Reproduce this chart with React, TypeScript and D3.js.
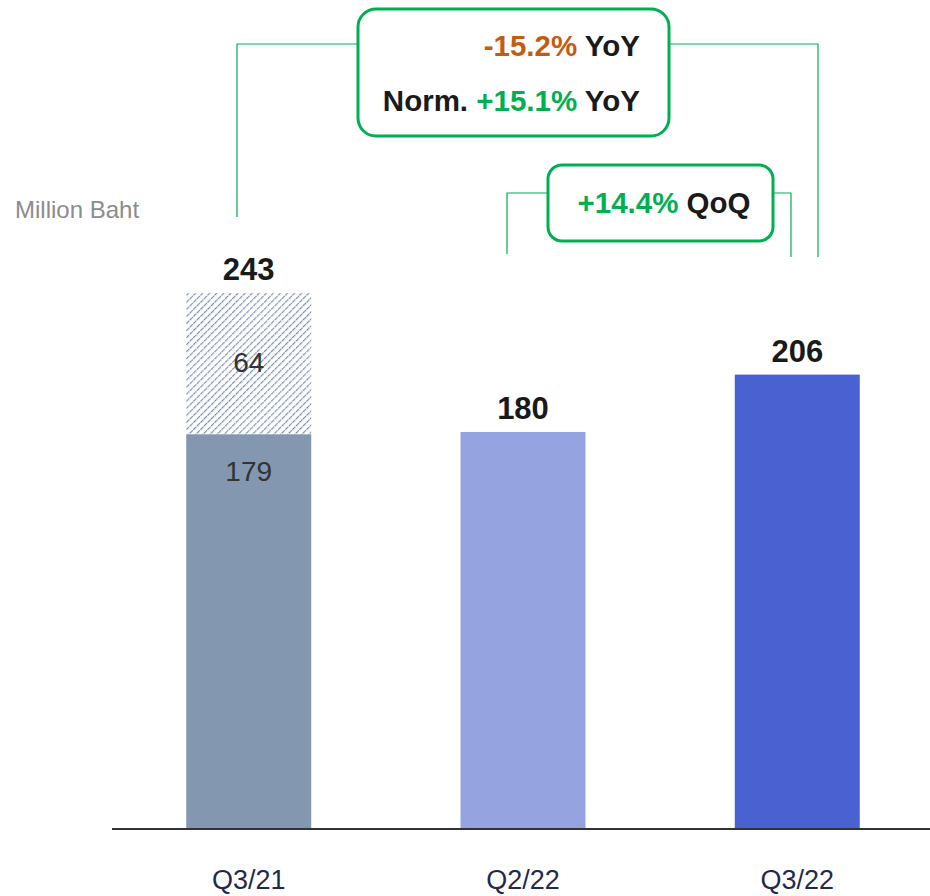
import React from "react";
import * as d3 from "d3";

const categories = ["Q3/21", "Q2/22", "Q3/22"];
const baseValues = [179, 180, 206];
const extraValues = [64, 0, 0];
const totals = [243, 180, 206];
const barColors = ["#8497b0", "#95a3e1", "#4a62d1"];

const W = 930;
const H = 896;

export default function App() {
  const x = d3.scaleBand<string>().domain(categories).range([112, 934]).paddingInner(0.543).paddingOuter(0.27);
  const y = d3.scaleLinear().domain([0, 243]).range([829, 293]);
  const bw = 125;
  const cx = (c: string) => (x(c) as number) + x.bandwidth() / 2;
  const green = "#00b050";
  const font = "Arial, 'Liberation Sans', sans-serif";
  const narrow = "'Liberation Sans Narrow', 'Arial Narrow', Arial, sans-serif";

  return (
    <svg width={W} height={H} style={{ position: "absolute", left: 0, top: 0, background: "#fff" }}>
      <defs>
        <pattern id="hatch" patternUnits="userSpaceOnUse" width="5" height="5" patternTransform="rotate(45)">
          <rect width="5" height="5" fill="#fff" />
          <line x1="0" y1="0" x2="0" y2="5" stroke="#7488a6" strokeWidth="2.4" strokeDasharray="2 0.8" />
        </pattern>
      </defs>
      <rect width={W} height={H} fill="#fff" />
      <text x={15} y={218} fontFamily={font} fontSize={24} fill="#8c8c8c">Million Baht</text>

      {categories.map((c, i) => {
        const xc = cx(c);
        const yBase = y(baseValues[i]);
        const yTop = y(totals[i]);
        return (
          <g key={c}>
            <rect x={xc - bw / 2} y={yBase} width={bw} height={y(0) - yBase} fill={barColors[i]} />
            {extraValues[i] > 0 && (
              <>
                <rect x={xc - bw / 2} y={y(baseValues[i] + extraValues[i])} width={bw}
                  height={yBase - y(baseValues[i] + extraValues[i])} fill="url(#hatch)" />
                <text x={xc} y={(yBase + y(baseValues[i] + extraValues[i])) / 2 + 1} textAnchor="middle"
                  dominantBaseline="middle" fontFamily={font} fontSize={28} fill="#333">{extraValues[i]}</text>
                <text x={xc} y={yBase + 39} textAnchor="middle" dominantBaseline="middle"
                  fontFamily={font} fontSize={28} fill="#333">{baseValues[i]}</text>
              </>
            )}
            <text x={xc} y={yTop - 13} textAnchor="middle" fontFamily={font} fontSize={31}
              fontWeight="bold" fill="#1a1a1a">{totals[i]}</text>
            <text x={xc} y={889} textAnchor="middle" fontFamily={narrow} fontSize={27} fill="#1f2a4d">{c}</text>
          </g>
        );
      })}

      <line x1={112} x2={930} y1={829} y2={829} stroke="#333" strokeWidth={2} />

      {/* YoY bracket */}
      <polyline points={`237,217 237,44 357,44`} fill="none" stroke={green} strokeWidth={1.2} />
      <polyline points={`670,44 818,44 818,257`} fill="none" stroke={green} strokeWidth={1.2} />
      <rect x={358} y={9} width={311} height={127} rx={18} fill="#fff" stroke={green} strokeWidth={3} />
      <text x={640} y={56} textAnchor="end" fontFamily={font} fontSize={29.5} fontWeight="bold">
        <tspan fill="#c55a11">-15.2%</tspan><tspan fill="#1a1a1a"> YoY</tspan>
      </text>
      <text x={640} y={111} textAnchor="end" fontFamily={font} fontSize={29.5} fontWeight="bold">
        <tspan fill="#1a1a1a">Norm. </tspan><tspan fill={green}>+15.1%</tspan><tspan fill="#1a1a1a"> YoY</tspan>
      </text>

      {/* QoQ bracket */}
      <polyline points={`507,254 507,193 547,193`} fill="none" stroke={green} strokeWidth={1.2} />
      <polyline points={`774,193 791,193 791,257`} fill="none" stroke={green} strokeWidth={1.2} />
      <rect x={548} y={165} width={225} height={76} rx={14} fill="#fff" stroke={green} strokeWidth={3} />
      <text x={664} y={213} textAnchor="middle" fontFamily={font} fontSize={29.5} fontWeight="bold">
        <tspan fill={green}>+14.4%</tspan><tspan fill="#1a1a1a"> QoQ</tspan>
      </text>
    </svg>
  );
}
